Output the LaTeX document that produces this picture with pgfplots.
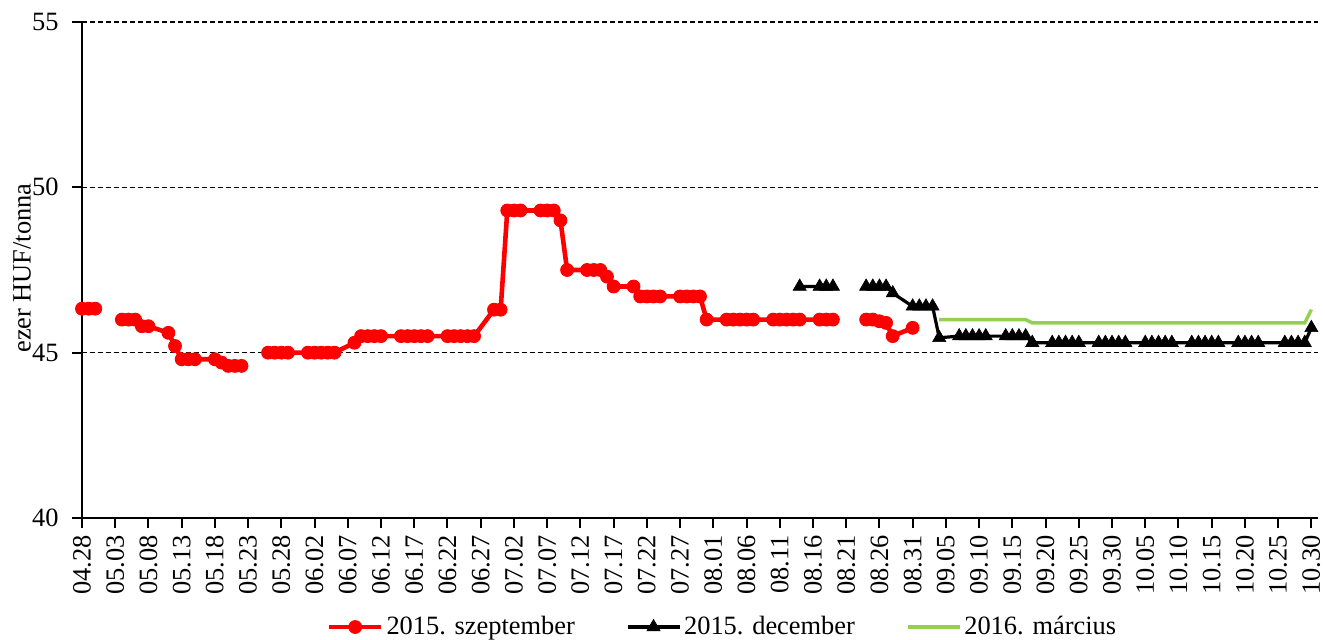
\documentclass[border=0pt]{standalone}
\usepackage{fontspec}
\setmainfont{Liberation Serif}
\usepackage{pgfplots}
\pgfplotsset{compat=1.18}
\definecolor{grn}{RGB}{146,208,80}
\begin{document}
\fontsize{13.2}{15}\selectfont
\begin{tikzpicture}
\useasboundingbox (-41pt,-61pt) rectangle (621.5pt,259pt);
\begin{axis}[
  at={(0,0)}, anchor=south west,
  width=618pt, height=248pt, scale only axis,
  xmin=0, xmax=186, ymin=40, ymax=55,
  clip=false,
  unbounded coords=jump,
  axis x line*=bottom, axis y line*=left,
  axis line style={line width=1pt},
  tick style={line width=1pt, black},
  tick align=outside, major tick length=5pt,
  ytick={40,45,50,55},
  xtick={0,5,...,185},
  xticklabels={04.28,05.03,05.08,05.13,05.18,05.23,05.28,06.02,06.07,06.12,06.17,06.22,06.27,07.02,07.07,07.12,07.17,07.22,07.27,08.01,08.06,08.11,08.16,08.21,08.26,08.31,09.05,09.10,09.15,09.20,09.25,09.30,10.05,10.10,10.15,10.20,10.25,10.30},
  xticklabel style={rotate=90, anchor=east, inner sep=0pt, font=\fontsize{13.2}{15}\selectfont},
  yticklabel style={anchor=east, inner sep=0pt, font=\fontsize{13.2}{15}\selectfont},
  xticklabel shift=3.5pt,
  yticklabel shift=6.5pt,
  /pgf/number format/assume math mode=true,
  ymajorgrids,
  grid style={black, line width=0.6pt, dash pattern=on 2.5pt off 1.5pt},
  ylabel={ezer HUF/tonna},
  ylabel style={at={(axis description cs:-0.0485,0.504)}, anchor=center, font=\fontsize{13.2}{15}\selectfont},
  legend columns=3,
  legend style={at={(axis description cs:0.5186,-0.2198)}, anchor=center, draw=none, fill=none,
    font=\fontsize{13.2}{15}\selectfont, nodes={inner sep=1.5pt},
    /tikz/every even column/.append style={column sep=24pt}},
  legend image code/.code={\draw[mark repeat=2,mark phase=2] plot coordinates {(0pt,0pt) (13pt,0pt) (26pt,0pt)};},
]
\addplot[red, line width=2.3pt, mark=*, mark size=3.2pt, mark options={solid, fill=red, draw=red, line width=0.5pt}] table {
x y
0 46.33
1 46.33
2 46.33
3 nan
6 46.0
7 46.0
8 46.0
9 45.8
10 45.8
13 45.6
14 45.2
15 44.8
16 44.8
17 44.8
20 44.8
21 44.7
22 44.6
23 44.6
24 44.6
27 nan
28 45.0
29 45.0
30 45.0
31 45.0
34 45.0
35 45.0
36 45.0
37 45.0
38 45.0
41 45.3
42 45.5
43 45.5
44 45.5
45 45.5
48 45.5
49 45.5
50 45.5
51 45.5
52 45.5
55 45.5
56 45.5
57 45.5
58 45.5
59 45.5
62 46.3
63 46.3
64 49.3
65 49.3
66 49.3
69 49.3
70 49.3
71 49.3
72 49.0
73 47.5
76 47.5
77 47.5
78 47.5
79 47.3
80 47.0
83 47.0
84 46.7
85 46.7
86 46.7
87 46.7
90 46.7
91 46.7
92 46.7
93 46.7
94 46.0
97 46.0
98 46.0
99 46.0
100 46.0
101 46.0
104 46.0
105 46.0
106 46.0
107 46.0
108 46.0
111 46.0
112 46.0
113 46.0
114 nan
118 46.0
119 46.0
120 45.95
121 45.9
122 45.5
125 45.75
};
\addlegendentry{2015. szeptember}
\addplot[black, line width=1.6pt, mark=triangle*, mark size=3.8pt, mark options={solid, fill=black, line width=0.3pt}] table {
x y
108 47.0
111 47.0
112 47.0
113 47.0
114 nan
118 47.0
119 47.0
120 47.0
121 47.0
122 46.8
125 46.4
126 46.4
127 46.4
128 46.4
129 45.45
132 45.5
133 45.5
134 45.5
135 45.5
136 45.5
139 45.5
140 45.5
141 45.5
142 45.5
143 45.3
146 45.3
147 45.3
148 45.3
149 45.3
150 45.3
153 45.3
154 45.3
155 45.3
156 45.3
157 45.3
160 45.3
161 45.3
162 45.3
163 45.3
164 45.3
167 45.3
168 45.3
169 45.3
170 45.3
171 45.3
174 45.3
175 45.3
176 45.3
177 45.3
181 45.3
182 45.3
183 45.3
184 45.3
185 45.75
};
\addlegendentry{2015. december}
\addplot[grn, line width=1.7pt, mark=none] table {
x y
129 46.0
132 46.0
133 46.0
134 46.0
135 46.0
136 46.0
139 46.0
140 46.0
141 46.0
142 46.0
143 45.9
146 45.9
147 45.9
148 45.9
149 45.9
150 45.9
153 45.9
154 45.9
155 45.9
156 45.9
157 45.9
160 45.9
161 45.9
162 45.9
163 45.9
164 45.9
167 45.9
168 45.9
169 45.9
170 45.9
171 45.9
174 45.9
175 45.9
176 45.9
177 45.9
181 45.9
182 45.9
183 45.9
184 45.9
185 46.3
};
\addlegendentry{2016. március}
\end{axis}
\end{tikzpicture}
\end{document}
